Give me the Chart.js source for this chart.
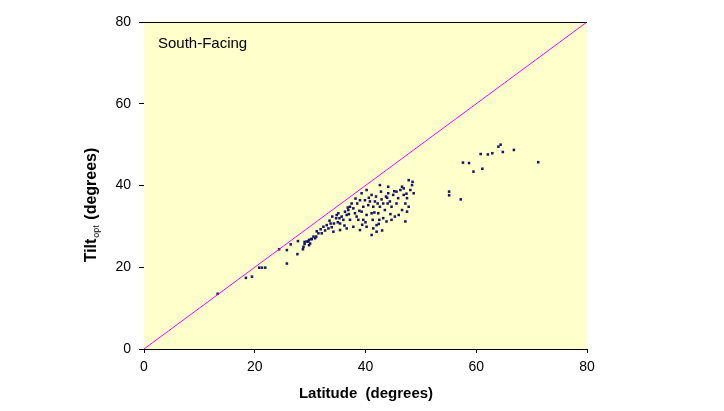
<!DOCTYPE html>
<html>
<head>
<meta charset="utf-8">
<script src="https://cdn.jsdelivr.net/npm/chart.js@4.4.1/dist/chart.umd.min.js"></script>
<style>
  html, body { margin: 0; padding: 0; background: #fff; }
  canvas { display: block; }
</style>
</head>
<body>
<canvas id="chart" width="724" height="411"></canvas>
<script>
// south-facing sites: latitude vs optimal tilt (degrees)
const latitude = [
  13.3, 18.4, 19.5, 20.8, 21.3, 21.9, 24.4, 25.8, 25.8, 26.5, 27.7, 27.8, 28.7, 29.0, 29.8, 30.3, 29.8, 31.2,
  29.0, 29.7, 30.2, 30.6, 31.1, 31.5, 31.9, 32.4, 32.7, 33.0, 33.3, 33.7, 33.9, 34.3, 34.7, 34.8, 35.1, 35.3,
  35.4, 35.7, 36.0, 36.3, 36.6, 36.9, 37.2, 37.5, 37.8, 38.1, 38.4, 38.5, 38.9, 39.0, 39.3, 39.6, 39.9, 40.2,
  40.5, 40.8, 41.1, 41.3, 41.4, 41.7, 41.9, 42.2, 42.3, 42.5, 42.6, 42.8, 42.9, 43.2, 43.5, 43.7, 44.0, 44.1,
  44.4, 44.7, 45.0, 45.3, 45.6, 45.9, 46.3, 46.6, 46.9, 47.2, 47.5, 47.8, 48.1, 48.4, 48.7, 47.2, 46.6, 44.7,
  43.8, 43.2, 42.0, 41.4, 40.2, 39.0, 37.8, 36.6, 35.4, 41.1, 42.0, 38.7, 39.6, 37.2, 34.2, 32.1, 30.9, 30.0,
  29.4, 28.8, 40.2, 41.1, 39.3, 42.6, 44.1, 45.6, 46.9, 47.8, 48.5, 47.5,
  33.5, 34.0, 36.2, 37.0, 38.2, 40.0, 41.6, 43.0, 44.5, 45.2, 46.0, 47.4, 35.0, 36.8, 39.4, 40.6, 42.4, 43.9,
  64.4, 64.0, 64.8, 66.8, 71.2, 62.9, 62.1, 60.8, 57.6, 58.7, 59.5, 61.1, 55.1, 55.1, 57.2
];
const tiltOpt = [
  13.5, 17.4, 17.7, 19.9, 19.9, 19.9, 24.4, 24.2, 20.9, 25.6, 23.2, 26.4, 24.4, 26.2, 26.7, 26.9, 25.4, 28.8,
  25.7, 26.3, 26.9, 27.5, 27.5, 28.3, 29.3, 29.9, 29.0, 30.3, 29.5, 30.7, 29.8, 30.7, 32.0, 32.8, 33.2, 32.0,
  30.7, 32.4, 31.6, 33.6, 32.8, 34.0, 34.8, 35.6, 34.4, 33.2, 32.4, 35.6, 33.8, 36.4, 33.6, 34.8, 36.4, 32.8,
  35.2, 36.1, 33.2, 31.6, 34.8, 36.1, 37.3, 35.6, 33.2, 31.6, 34.8, 38.5, 36.6, 35.6, 34.0, 37.3, 35.6, 38.1,
  36.1, 34.8, 37.7, 32.4, 35.6, 36.9, 38.9, 34.0, 37.7, 35.6, 36.9, 34.8, 38.9, 40.1, 38.1, 31.2, 39.7, 31.6,
  31.2, 32.0, 30.3, 29.5, 29.9, 29.1, 29.9, 29.5, 29.1, 27.9, 28.7, 31.6, 31.6, 31.6, 28.7, 28.3, 27.1, 25.8,
  26.3, 25.0, 38.9, 37.7, 38.1, 40.1, 39.7, 38.5, 39.3, 41.3, 40.9, 33.6,
  31.4, 32.4, 30.2, 33.0, 36.8, 31.0, 33.4, 29.0, 33.0, 38.6, 32.8, 38.0, 31.0, 34.6, 30.4, 37.0, 30.6, 37.0,
  50.0, 49.5, 48.2, 48.7, 45.7, 47.9, 47.6, 47.7, 45.6, 45.5, 43.4, 44.1, 38.5, 37.6, 36.6
];
const refLine = [0, 80];
const tickValues = [0, 20, 40, 60, 80];

const points = latitude.map((lat, i) => ({ x: lat, y: tiltOpt[i] }));

const plotBg = {
  id: 'plotBg',
  beforeDraw(chart) {
    const a = chart.chartArea, ctx = chart.ctx;
    ctx.save();
    ctx.fillStyle = '#ffffcc';
    ctx.fillRect(a.left, a.top, a.right - a.left, a.bottom - a.top);
    ctx.restore();
  },
  afterDraw(chart) {
    const a = chart.chartArea, ctx = chart.ctx;
    ctx.save();
    // top border
    ctx.strokeStyle = '#000';
    ctx.lineWidth = 1;
    ctx.beginPath();
    ctx.moveTo(a.left, a.top + 0.5);
    ctx.lineTo(a.right, a.top + 0.5);
    ctx.stroke();

    ctx.fillStyle = '#000';
    ctx.font = '15px "Liberation Sans", Arial, sans-serif';
    ctx.textBaseline = 'middle';
    ctx.textAlign = 'left';
    ctx.fillText('South-Facing', a.left + 14, 44);

    // x title
    ctx.font = 'bold 15px "Liberation Sans", Arial, sans-serif';
    ctx.textAlign = 'center';
    ctx.fillText('Latitude  (degrees)', 366, 394);

    // y title with subscript
    ctx.translate(92, 205);
    ctx.rotate(-Math.PI / 2);
    const f1 = 'bold 16px "Liberation Sans", Arial, sans-serif';
    const f2 = '9px "Liberation Sans", Arial, sans-serif';
    ctx.font = f1; const w1 = ctx.measureText('Tilt').width;
    ctx.font = f2; const w2 = ctx.measureText('opt').width;
    ctx.font = f1; const w3 = ctx.measureText(' (degrees)').width;
    let x = -(w1 + w2 + 2 + w3) / 2;
    ctx.textAlign = 'left';
    ctx.font = f1; ctx.fillText('Tilt', x, 0); x += w1 + 1;
    ctx.font = f2; ctx.fillText('opt', x, 5); x += w2 + 1;
    ctx.font = f1; ctx.fillText(' (degrees)', x, 0);
    ctx.restore();
  }
};

new Chart(document.getElementById('chart'), {
  type: 'scatter',
  data: {
    datasets: [
      {
        type: 'line',
        data: refLine.map(v => ({ x: v, y: v })),
        borderColor: '#ff00ff',
        borderWidth: 1,
        pointRadius: 0,
        fill: false
      },
      {
        data: points,
        pointStyle: 'rect',
        pointRadius: 1.8,
        backgroundColor: '#161668',
        borderColor: '#161668',
        borderWidth: 0
      }
    ]
  },
  options: {
    responsive: false,
    animation: false,
    devicePixelRatio: 1,
    layout: { padding: { left: 0, right: 137, top: 22, bottom: 0 } },
    plugins: { legend: { display: false }, tooltip: { enabled: false } },
    scales: {
      x: {
        type: 'linear', min: 0, max: 80,
        afterBuildTicks(s) { s.ticks = tickValues.map(v => ({ value: v })); },
        afterFit(s) { s.height = 62; },
        border: { display: true, color: '#000', width: 1 },
        grid: { drawOnChartArea: false, drawTicks: true, tickLength: 4, color: '#000' },
        ticks: { color: '#000', padding: 6, maxRotation: 0, minRotation: 0, font: { size: 14, family: '"Liberation Sans", Arial, sans-serif' } }
      },
      y: {
        type: 'linear', min: 0, max: 80,
        afterBuildTicks(s) { s.ticks = tickValues.map(v => ({ value: v })); },
        afterFit(s) { s.width = 144; },
        border: { display: false },
        grid: { drawOnChartArea: false, drawTicks: true, tickLength: 5, color: '#000' },
        ticks: { color: '#000', padding: 8, font: { size: 14, family: '"Liberation Sans", Arial, sans-serif' } }
      }
    }
  },
  plugins: [plotBg]
});
</script>
</body>
</html>
